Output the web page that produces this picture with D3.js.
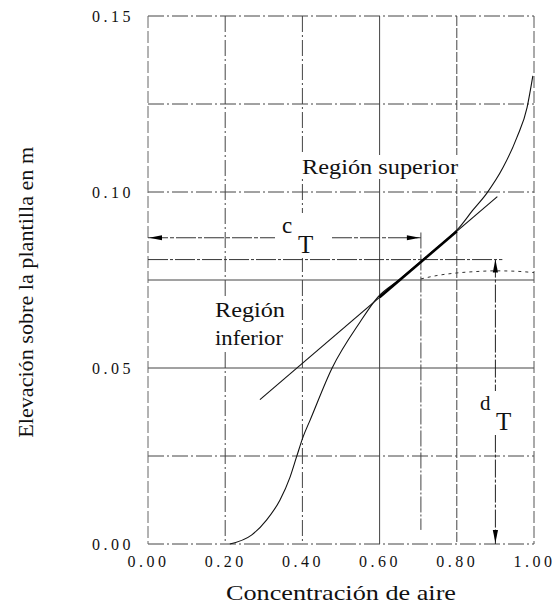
<!DOCTYPE html>
<html>
<head>
<meta charset="utf-8">
<script src="https://cdn.jsdelivr.net/npm/d3@7/dist/d3.min.js"></script>
<style>
  html, body { margin: 0; padding: 0; background: #fff; }
  svg { display: block; }
  text { font-family: "Liberation Serif", "Times New Roman", serif; fill: #111; }
</style>
</head>
<body>
<svg id="chart" width="555" height="604"></svg>
<script>
// Air concentration profile (elevation above the chute floor vs. air concentration)
const xTicks = [0.00, 0.20, 0.40, 0.60, 0.80, 1.00];
const yTicks = [0.00, 0.05, 0.10, 0.15];
const xGrid = [0.20, 0.40, 0.60, 0.80];
const yGrid = [0.025, 0.05, 0.075, 0.10, 0.125];

// measured profile
const profileC = [0.212, 0.269, 0.307, 0.342, 0.368, 0.385, 0.402, 0.420, 0.477, 0.549, 0.596, 0.650, 0.707, 0.750, 0.803, 0.842, 0.878, 0.920, 0.956, 0.982, 0.997];
const profileY = [0.000, 0.0026, 0.0068, 0.0125, 0.0190, 0.0248, 0.0305, 0.0352, 0.0500, 0.0630, 0.0702, 0.0750, 0.0803, 0.0843, 0.0895, 0.0949, 0.0997, 0.1070, 0.1156, 0.1240, 0.1330];

// straight line fitted through the transition zone
const tangentC = [0.290, 0.905];
const tangentY = [0.0410, 0.0987];

// dotted trace to the right of the transition point
const dottedC = [0.707, 0.750, 0.800, 0.850, 0.900, 0.950, 1.000];
const dottedY = [0.0753, 0.0763, 0.0770, 0.0774, 0.0776, 0.0775, 0.0771];

// transition values
const cT = 0.707;
const yT = 0.0808;
const dTx = 0.90;
const cArrowY = 0.087;

const svg = d3.select("#chart");
const x = d3.scaleLinear().domain([0, 1]).range([148, 534]);
const y = d3.scaleLinear().domain([0, 0.15]).range([544, 16]);

const gridColor = "#444";
const dashDot = "16,3,2,3";

// grid
const g = svg.append("g");
const vStyle = { 0.2: dashDot, 0.4: dashDot, 0.6: null, 0.8: "10,2" };
const hStyle = { 0.025: dashDot, 0.05: null, 0.075: null, 0.1: dashDot, 0.125: dashDot };

g.selectAll("line.vg").data(xGrid).join("line")
  .attr("x1", d => x(d)).attr("x2", d => x(d))
  .attr("y1", y(0.15)).attr("y2", y(0))
  .attr("stroke", gridColor).attr("stroke-width", 1)
  .attr("stroke-dasharray", d => vStyle[d]);

g.selectAll("line.hg").data(yGrid).join("line")
  .attr("x1", x(0)).attr("x2", x(1))
  .attr("y1", d => y(d)).attr("y2", d => y(d))
  .attr("stroke", gridColor).attr("stroke-width", 1)
  .attr("stroke-dasharray", d => hStyle[d]);

// frame
g.append("line").attr("x1", x(0)).attr("x2", x(1)).attr("y1", y(0.15)).attr("y2", y(0.15))
  .attr("stroke", gridColor).attr("stroke-dasharray", dashDot);
g.append("line").attr("x1", x(0)).attr("x2", x(1)).attr("y1", y(0)).attr("y2", y(0))
  .attr("stroke", gridColor).attr("stroke-dasharray", dashDot);
g.append("line").attr("x1", x(0)).attr("x2", x(0)).attr("y1", y(0.15)).attr("y2", y(0))
  .attr("stroke", "#666").attr("stroke-dasharray", "12,3");
g.append("line").attr("x1", x(1)).attr("x2", x(1)).attr("y1", y(0.15)).attr("y2", y(0))
  .attr("stroke", "#555").attr("stroke-dasharray", "12,3");

// horizontal line at the transition elevation and vertical at c_T
g.append("line").attr("x1", x(0)).attr("x2", x(0.918)).attr("y1", y(yT)).attr("y2", y(yT))
  .attr("stroke", "#333").attr("stroke-dasharray", "20,2,3,2");
g.append("line").attr("x1", x(cT)).attr("x2", x(cT)).attr("y1", y(0.0885)).attr("y2", y(0.004))
  .attr("stroke", "#444").attr("stroke-dasharray", "16,2,2,2");

// axes
const fmt = d3.format(".2f");
const yAxis = d3.axisLeft(y).tickValues(yTicks).tickSize(0).tickPadding(14).tickFormat(fmt);
const xAxis = d3.axisBottom(x).tickValues(xTicks).tickSize(0).tickPadding(12).tickFormat(fmt);
function styleTicks(sel) {
  sel.attr("font-family", null).attr("font-size", null);
  sel.select(".domain").remove();
  sel.selectAll("text")
    .style("font-family", '"Liberation Serif", "Times New Roman", serif')
    .style("font-size", "16px").style("letter-spacing", "3.5px").attr("fill", "#222");
}
svg.append("g").attr("transform", `translate(${x(0)},0)`).call(yAxis).call(styleTicks);
svg.append("g").attr("transform", `translate(0,${y(0)})`).call(xAxis).call(styleTicks);

// axis titles
svg.append("text").attr("x", x(0.5)).attr("y", 600).attr("text-anchor", "middle")
  .style("font-size", "22px").attr("textLength", 230).attr("lengthAdjust", "spacingAndGlyphs")
  .text("Concentración de aire");
svg.append("text").attr("transform", `translate(33,${y(0.0715)}) rotate(-90)`)
  .attr("text-anchor", "middle").style("font-size", "20px")
  .attr("textLength", 291).attr("lengthAdjust", "spacingAndGlyphs")
  .text("Elevación sobre la plantilla en m");

// labels with white backing
function label(parts) {
  const grp = svg.append("g");
  const bg = grp.append("rect").attr("fill", "#fff");
  parts.forEach(p => {
    const t = grp.append("text").attr("x", p.x).attr("y", p.y).style("font-size", p.size + "px").text(p.t);
    if (p.w) t.attr("textLength", p.w).attr("lengthAdjust", "spacingAndGlyphs");
  });
  const bb = grp.node().getBBox();
  bg.attr("x", bb.x - 2).attr("y", bb.y).attr("width", bb.width + 4).attr("height", bb.height);
  return grp;
}

label([{ t: "Región superior", x: 302, y: 174, size: 21, w: 156 }]);
label([{ t: "Región", x: 215, y: 317, size: 21, w: 70 }, { t: "inferior", x: 215, y: 345, size: 21, w: 68 }]);

// dotted trace
const lineFn = d3.line().x(d => x(d[0])).y(d => y(d[1])).curve(d3.curveMonotoneX);
svg.append("path").datum(d3.zip(dottedC, dottedY)).attr("d", lineFn)
  .attr("fill", "none").attr("stroke", "#333").attr("stroke-width", 1)
  .attr("stroke-dasharray", "3,4");

// tangent
svg.append("path").datum(d3.zip(tangentC, tangentY))
  .attr("d", d3.line().x(d => x(d[0])).y(d => y(d[1])))
  .attr("fill", "none").attr("stroke", "#111").attr("stroke-width", 1.1);

// profile
const prof = d3.zip(profileC, profileY);
svg.append("path").datum(prof).attr("d", lineFn)
  .attr("fill", "none").attr("stroke", "#111").attr("stroke-width", 1.1);
// bold where profile and tangent coincide
const tanAt = c => tangentY[0] + (tangentY[1] - tangentY[0]) * (c - tangentC[0]) / (tangentC[1] - tangentC[0]);
svg.append("path").datum([0.60, 0.80].map(c => [c, tanAt(c)]))
  .attr("d", d3.line().x(d => x(d[0])).y(d => y(d[1])))
  .attr("fill", "none").attr("stroke", "#000").attr("stroke-width", 2.6);

// arrow heads
function head(px, py, dir) {
  const L = 13, W = 2.6;
  let pts;
  if (dir === "left") pts = [[px, py], [px + L, py - W], [px + L, py + W]];
  if (dir === "right") pts = [[px, py], [px - L, py - W], [px - L, py + W]];
  if (dir === "up") pts = [[px, py], [px - W, py + L], [px + W, py + L]];
  if (dir === "down") pts = [[px, py], [px - W, py - L], [px + W, py - L]];
  svg.append("path").attr("d", "M" + pts.join("L") + "Z").attr("fill", "#000");
}

// c_T arrow
const cy = y(cArrowY);
svg.append("line").attr("x1", x(0)).attr("x2", 275).attr("y1", cy).attr("y2", cy)
  .attr("stroke", "#333").attr("stroke-dasharray", "20,2,4,2");
svg.append("line").attr("x1", 332).attr("x2", x(cT)).attr("y1", cy).attr("y2", cy)
  .attr("stroke", "#333").attr("stroke-dasharray", "20,2,4,2");
head(x(0) + 1, cy, "left");
head(x(cT) - 1, cy, "right");
label([{ t: "c", x: 282, y: 233, size: 23 }, { t: "T", x: 298, y: 253, size: 25 }]);

// d_T arrow
const dx = x(dTx);
svg.append("line").attr("x1", dx).attr("x2", dx).attr("y1", y(yT)).attr("y2", y(0))
  .attr("stroke", "#222").attr("stroke-dasharray", "18,2,3,2");
head(dx, y(yT), "up");
head(dx, y(0) - 1, "down");
label([{ t: "d", x: 480, y: 410, size: 21 }, { t: "T", x: 496, y: 430, size: 25 }]);
</script>
</body>
</html>
